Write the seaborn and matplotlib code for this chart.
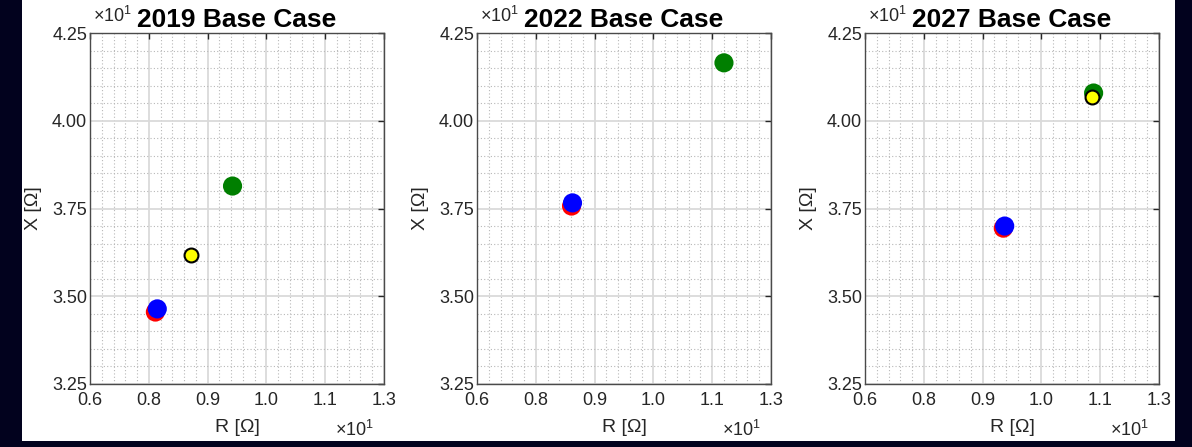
import matplotlib
matplotlib.use("Agg")
import matplotlib.pyplot as plt
import matplotlib.patches as mpatches
from matplotlib.ticker import MultipleLocator
import seaborn as sns
import pandas as pd

# data (ohms)
years = ["2019", "2022", "2027"]
red_R = [7.64, 8.26, 9.19]
red_X = [34.55, 37.57, 36.94]
blue_R = [7.68, 8.28, 9.22]
blue_X = [34.64, 37.66, 37.00]
green_R = [9.28, 11.50, 11.11]
green_X = [38.14, 41.65, 40.79]
yellow_R = [8.40, None, 11.07]
yellow_X = [36.18, None, 40.67]

x_ticks = [6.25, 7.5, 8.75, 10.0, 11.25, 12.5]
x_labels = ["0.6", "0.8", "0.9", "1.0", "1.1", "1.3"]
y_ticks = [32.5, 35.0, 37.5, 40.0, 42.5]
y_labels = ["3.25", "3.50", "3.75", "4.00", "4.25"]

rows = []
for name, rr, xx in [("red", red_R, red_X), ("blue", blue_R, blue_X),
                     ("green", green_R, green_X), ("yellow", yellow_R, yellow_X)]:
    for yr, r, x in zip(years, rr, xx):
        if r is not None:
            rows.append({"year": yr, "series": name, "R": r, "X": x})
df = pd.DataFrame(rows)

sns.set_style("white")
plt.rcParams["font.family"] = ["Liberation Sans", "DejaVu Sans"]
plt.rcParams["mathtext.fontset"] = "custom"
plt.rcParams["mathtext.rm"] = "Liberation Sans"
plt.rcParams["mathtext.it"] = "Liberation Sans"

fig = plt.figure(figsize=(11.92, 4.47), dpi=100, facecolor="#02021e")
# white figure area inside the dark frame
fig.add_artist(mpatches.Rectangle((22 / 1192, 6 / 447), 1153 / 1192, 1, transform=fig.transFigure,
                                  facecolor="white", edgecolor="none", zorder=-10))

lefts = [90 / 1192, 477 / 1192, 865 / 1192]
styles = {
    "red": dict(color="#ff0000", s=190, edgecolor="none"),
    "blue": dict(color="#0000ff", s=190, edgecolor="none"),
    "green": dict(color="#007f00", s=190, edgecolor="none"),
    "yellow": dict(color="#ffff00", s=100, edgecolor="black", linewidth=1.5),
}
txt = "#262626"

for i, yr in enumerate(years):
    ax = fig.add_axes([lefts[i], 63 / 447, 294 / 1192, 351 / 447])
    ax.set_zorder(1)
    sub = df[df["year"] == yr]
    for name in ["red", "blue", "green", "yellow"]:
        d = sub[sub["series"] == name]
        if len(d):
            sns.scatterplot(data=d, x="R", y="X", ax=ax, legend=False, zorder=3, **styles[name])
    ax.set_xlim(6.25, 12.5)
    ax.set_ylim(32.5, 42.5)
    ax.set_xticks(x_ticks)
    ax.set_xticklabels(x_labels)
    ax.set_yticks(y_ticks)
    ax.set_yticklabels(y_labels)
    ax.xaxis.set_minor_locator(MultipleLocator(0.25))
    ax.yaxis.set_minor_locator(MultipleLocator(0.5))
    ax.grid(which="major", color="#dadada", lw=1.3, ls="-", zorder=0)
    ax.grid(which="minor", color="#b8b8b8", lw=0.8, ls=(0, (1, 2)), zorder=0)
    ax.set_axisbelow(True)
    ax.tick_params(which="major", direction="in", length=4, width=1, color="#262626",
                   top=True, right=True, labelsize=13, labelcolor=txt)
    ax.tick_params(axis="x", pad=6)
    ax.tick_params(axis="y", pad=2)
    ax.tick_params(which="minor", length=0)
    for sp in ax.spines.values():
        sp.set_color("#4a4a4a")
        sp.set_linewidth(1.0)
    ax.set_xlabel("R [Ω]", fontsize=14, color=txt, labelpad=7)
    ax.set_ylabel("X [Ω]", fontsize=14, color=txt, labelpad=7)
    ax.set_title(f"{yr} Base Case", fontsize=19, fontweight="bold", color="black", pad=4)
    ax.text(0.01, 1.02, r"$\times10^{1}$", transform=ax.transAxes, fontsize=13,
            color=txt, ha="left", va="bottom")
    ax.text(0.965, -0.103, r"$\times10^{1}$", transform=ax.transAxes, fontsize=13,
            color=txt, ha="right", va="top")

fig.savefig("out.png", dpi=100, facecolor=fig.get_facecolor())
